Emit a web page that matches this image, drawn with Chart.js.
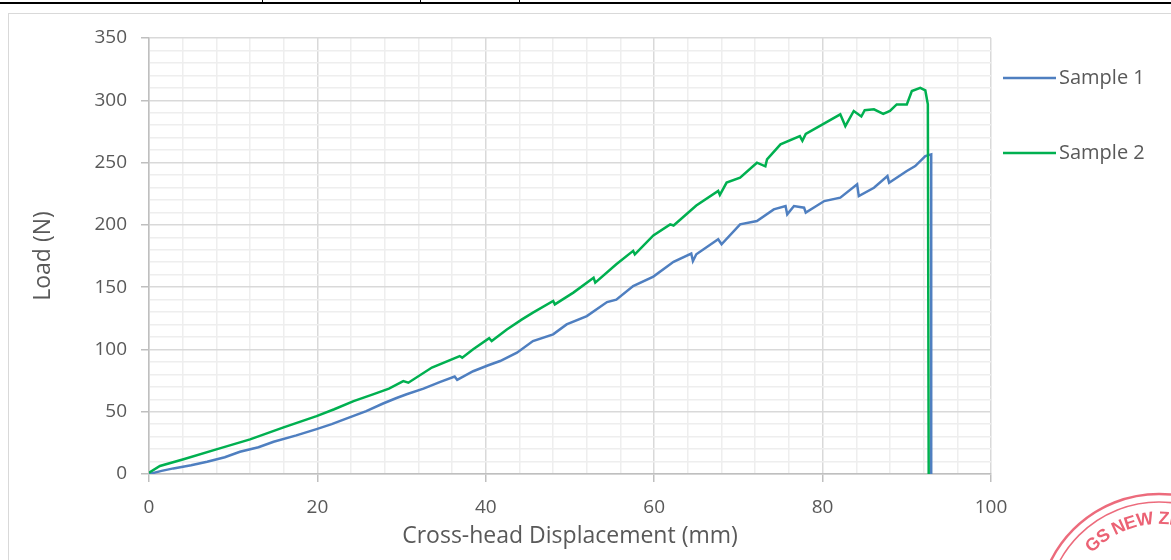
<!DOCTYPE html>
<html>
<head>
<meta charset="utf-8">
<title>Load vs Cross-head Displacement</title>
<script src="https://cdn.jsdelivr.net/npm/chart.js@4.4.1/dist/chart.umd.min.js"></script>
<style>
    html, body { margin: 0; padding: 0; background: #fff; }
    body { width: 1171px; height: 560px; position: relative; overflow: hidden; }
    .rule { position: absolute; left: 0; top: 2px; width: 1171px; height: 2px; background: #000; }
    .cell { position: absolute; top: 0; width: 1px; height: 3px; background: #000; }
    .frame { position: absolute; left: 8px; top: 13px; width: 1200px; height: 600px; border: 1px solid #d9d9d9; }
    #wrap { position: absolute; left: 0; top: 0; width: 1171px; height: 560px; }
    .stamp { position: absolute; left: 0; top: 0; pointer-events: none; }
</style>
</head>
<body>
<div class="rule"></div>
<div class="cell" style="left:262px"></div>
<div class="cell" style="left:420px"></div>
<div class="cell" style="left:519px"></div>
<div class="frame"></div>
<div id="wrap"><canvas id="loadChart"></canvas></div>
<svg class="stamp" width="1171" height="560">
    <g fill="none" stroke="#e8475c" opacity="0.8">
        <circle cx="1159" cy="615" r="121" stroke-width="2.5"/>
        <circle cx="1159" cy="615" r="113" stroke-width="1.5"/>
    </g>
    <path id="stampArc" d="M 1089.3 556.5 A 91 91 0 0 1 1244.5 583.9" fill="none"/>
    <text fill="#e8475c" opacity="0.85" font-family="Liberation Sans Narrow, Liberation Sans" font-weight="bold" font-size="18" letter-spacing="-0.5"><textPath href="#stampArc" startOffset="4">GS NEW ZEALAND</textPath></text>
</svg>
<script>
// Sample 1 (blue)
const sample1X = [0, 1.5, 2.9, 5, 6.9, 9, 10.8, 13, 14.8, 17.5,
    19.9, 21.7, 23.5, 25.8, 27.8, 29.4, 30.6, 32.6, 34.6, 36.3,
    36.6, 38.5, 40.3, 41.7, 43.7, 45.6, 48, 49.6, 52, 54.4,
    55.5, 57.5, 59.9, 62.3, 64.4, 64.6, 65, 67.6, 68, 70.2,
    72.2, 74.2, 75.6, 75.8, 76.6, 77.8, 78, 80.2, 82.1, 84.1,
    84.3, 86.1, 87.7, 87.9, 90, 91, 92.2, 92.9, 92.9];
const sample1Y = [0, 2.5, 4.5, 7, 9.9, 13.5, 17.9, 21.5, 25.9, 31,
    36, 40, 44.6, 50.5, 56.6, 61, 64, 68.5, 73.9, 78.2,
    75.6, 82.5, 87.3, 90.7, 97.4, 106.7, 112.1, 120.1, 126.8, 138,
    140, 150.9, 158.5, 170.3, 177, 171, 176.4, 188.4, 184.4, 200.4,
    203.1, 212.4, 215.1, 208.4, 215.1, 213.8, 209.8, 219.1, 221.8, 232.5,
    223.1, 229.8, 239.2, 233.8, 243.2, 247.2, 255.2, 256.6, 0];

// Sample 2 (green)
const sample2X = [0, 1.3, 4.1, 8, 12, 15.9, 19.9, 22, 24.3, 26.6,
    28.5, 30.2, 30.8, 33.6, 36.9, 37.2, 38.5, 40.4, 40.7, 42.5,
    44.3, 45.6, 48, 48.2, 50.4, 52.8, 53, 55.5, 57.5, 57.7,
    59.9, 61.9, 62.3, 65, 67.6, 67.8, 68.6, 70.2, 72.2, 73.2,
    73.4, 75, 77.3, 77.6, 78, 80, 82.1, 82.7, 83.7, 84.6,
    85, 86.1, 87.2, 88, 88.8, 90, 90.6, 91.6, 92.2, 92.5,
    92.6];
const sample2Y = [1, 6.4, 11.8, 19.8, 27.8, 37.2, 46.5, 52, 58.5, 63.9,
    68.5, 74.6, 73.3, 85.5, 94.7, 93.4, 100.1, 109, 106.7, 116,
    124.1, 129.5, 138.9, 136.2, 145.6, 157.6, 153.6, 168.4, 179.1, 176.4,
    191.5, 200.4, 199.5, 215.5, 227.2, 224, 233.9, 237.9, 249.9, 247,
    252.6, 264.6, 271.3, 267.5, 273, 280.7, 288.7, 279.3, 291.4, 287,
    292, 292.7, 289, 291.4, 296.7, 296.7, 307.4, 310, 307.9, 296.7,
    0];

const xTickLabels = [0, 20, 40, 60, 80, 100];
const yTickLabels = [0, 50, 100, 150, 200, 250, 300, 350];

const seriesNames = ['Sample 1', 'Sample 2'];
const seriesColors = ['#4f7fc0', '#00b050'];

const toPoints = (xs, ys) => xs.map((x, i) => ({ x: x, y: ys[i] }));

const textColor = '#595959';
const majorGrid = '#d9d9d9';
const minorGrid = '#eeeeee';
const axisColor = '#bfbfbf';

// legend drawn to the right of the plot, like the spreadsheet one
const sideLegend = {
    id: 'sideLegend',
    afterDraw(chart) {
        const ctx = chart.ctx;
        const rows = [78, 153];
        ctx.save();
        chart.data.datasets.forEach((ds, i) => {
            const y = rows[i];
            ctx.strokeStyle = ds.borderColor;
            ctx.lineWidth = 2.5;
            ctx.beginPath();
            ctx.moveTo(1003, y);
            ctx.lineTo(1056, y);
            ctx.stroke();
            ctx.fillStyle = textColor;
            ctx.font = '20px "Open Sans"';
            ctx.textAlign = 'left';
            ctx.textBaseline = 'middle';
            ctx.fillText(ds.label, 1059, y);
        });
        ctx.restore();
    }
};

const ctx = document.getElementById('loadChart').getContext('2d');
new Chart(ctx, {
    type: 'line',
    data: {
        datasets: [{
            label: seriesNames[0],
            data: toPoints(sample1X, sample1Y),
            borderColor: seriesColors[0],
            backgroundColor: seriesColors[0],
            borderWidth: 2.5,
            pointRadius: 0,
            tension: 0,
            order: 1
        }, {
            label: seriesNames[1],
            data: toPoints(sample2X, sample2Y),
            borderColor: seriesColors[1],
            backgroundColor: seriesColors[1],
            borderWidth: 2.5,
            pointRadius: 0,
            tension: 0,
            order: 0
        }]
    },
    options: {
        responsive: true,
        maintainAspectRatio: false,
        animation: false,
        layout: {
            padding: { top: 38, right: 180, left: 0, bottom: 0 }
        },
        scales: {
            x: {
                type: 'linear',
                min: 0,
                max: 100,
                afterFit: (scale) => { scale.height = 86; },
                ticks: {
                    stepSize: 4,
                    autoSkip: false,
                    maxRotation: 0,
                    padding: 14,
                    color: textColor,
                    font: { family: 'Open Sans', size: 19 },
                    callback: (value) => xTickLabels.includes(value) ? String(value) : ''
                },
                grid: {
                    color: (c) => c.tick && c.tick.value % 20 === 0 ? majorGrid : minorGrid,
                    tickColor: (c) => c.tick && c.tick.value % 20 === 0 ? axisColor : 'rgba(0,0,0,0)',
                    tickLength: 8,
                    lineWidth: 1.5
                },
                border: { color: axisColor, width: 1.5 },
                title: {
                    display: true,
                    text: 'Cross-head Displacement (mm)',
                    color: textColor,
                    font: { family: 'Open Sans', size: 23 },
                    padding: { top: 0, bottom: 10 }
                }
            },
            y: {
                min: 0,
                max: 350,
                afterFit: (scale) => { scale.width = 149; },
                ticks: {
                    stepSize: 10,
                    autoSkip: false,
                    padding: 14,
                    color: textColor,
                    font: { family: 'Open Sans', size: 19 },
                    callback: (value) => yTickLabels.includes(value) ? String(value) : ''
                },
                grid: {
                    color: (c) => c.tick && c.tick.value % 50 === 0 ? majorGrid : minorGrid,
                    tickColor: (c) => c.tick && c.tick.value % 50 === 0 ? axisColor : 'rgba(0,0,0,0)',
                    tickLength: 8,
                    lineWidth: 1.5
                },
                border: { color: axisColor, width: 1.5 },
                title: {
                    display: true,
                    text: 'Load (N)',
                    color: textColor,
                    font: { family: 'Open Sans', size: 23 },
                    padding: { top: 30, bottom: 0 }
                }
            }
        },
        plugins: {
            legend: { display: false },
            tooltip: { enabled: false }
        }
    },
    plugins: [sideLegend]
});
</script>
</body>
</html>
